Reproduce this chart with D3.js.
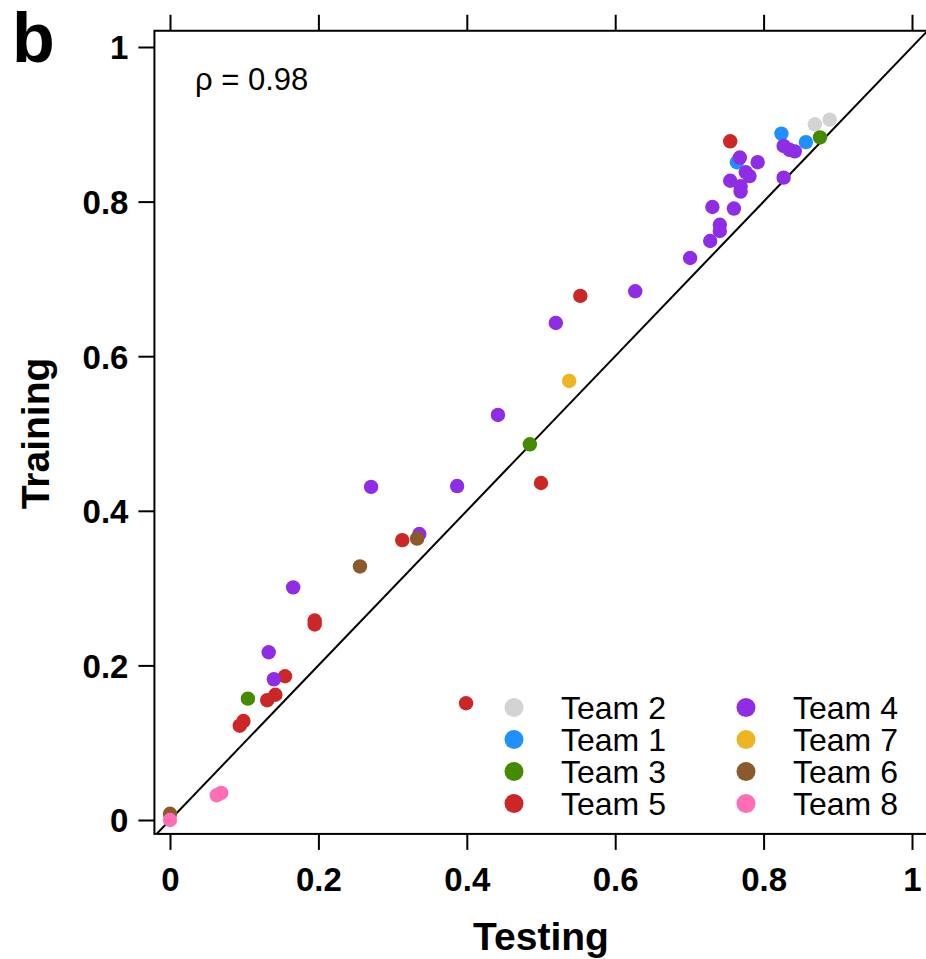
<!DOCTYPE html>
<html>
<head>
<meta charset="utf-8">
<script src="https://cdn.jsdelivr.net/npm/d3@7"></script>
<style>
  body { margin: 0; background: #fff; }
  svg { display: block; font-family: "Liberation Sans", Arial, sans-serif; }
</style>
</head>
<body>
<svg id="chart" width="926" height="959"></svg>
<script>
// teams in draw / legend order
var teams = ["Team 2", "Team 1", "Team 3", "Team 5", "Team 4", "Team 7", "Team 6", "Team 8"];
var teamColors = ["#d3d3d3", "#1e90ff", "#458b00", "#cd2626", "#8e2ce6", "#eeb422", "#8b5a2b", "#ff6eb4"];

// testing / training scores per team
var team2Testing = [0.869, 0.889];
var team2Training = [0.900, 0.906];
var team1Testing = [0.764, 0.824, 0.857];
var team1Training = [0.851, 0.888, 0.877];
var team3Testing = [0.876, 0.485, 0.105];
var team3Training = [0.883, 0.486, 0.157];
var team5Testing = [0.755, 0.553, 0.500, 0.313, 0.195, 0.195, 0.399, 0.155, 0.142, 0.131, 0.099, 0.094];
var team5Training = [0.878, 0.678, 0.436, 0.362, 0.258, 0.253, 0.151, 0.186, 0.162, 0.155, 0.128, 0.122];
var team4Testing = [0.827, 0.835, 0.842, 0.827, 0.768, 0.792, 0.776, 0.781, 0.755, 0.769, 0.769, 0.731, 0.760,
                    0.741, 0.741, 0.728, 0.701, 0.627, 0.520, 0.442, 0.387, 0.271, 0.336, 0.166, 0.133, 0.140];
var team4Training = [0.872, 0.867, 0.865, 0.831, 0.857, 0.851, 0.838, 0.833, 0.827, 0.820, 0.813, 0.793, 0.791,
                     0.770, 0.762, 0.749, 0.727, 0.684, 0.643, 0.524, 0.432, 0.431, 0.370, 0.301, 0.217, 0.182];
var team7Testing = [0.538];
var team7Training = [0.568];
var team6Testing = [0.333, 0.256, 0.0];
var team6Training = [0.364, 0.328, 0.008];
var team8Testing = [0.069, 0.063, 0.0];
var team8Training = [0.035, 0.032, 0.0];

var testingByTeam = [team2Testing, team1Testing, team3Testing, team5Testing, team4Testing, team7Testing, team6Testing, team8Testing];
var trainingByTeam = [team2Training, team1Training, team3Training, team5Training, team4Training, team7Training, team6Training, team8Training];

var tickValues = [0, 0.2, 0.4, 0.6, 0.8, 1];
var xLim = [-0.021, 1.021];
var yLim = [-0.018, 1.021];

var legendCol1 = ["Team 2", "Team 1", "Team 3", "Team 5"];
var legendCol2 = ["Team 4", "Team 7", "Team 6", "Team 8"];

function drawChart() {
    var svg = d3.select("#chart");

    var x = d3.scaleLinear().domain([0, 1]).range([170, 912]);
    var y = d3.scaleLinear().domain([0, 1]).range([820, 47]);
    var color = d3.scaleOrdinal().domain(teams).range(teamColors);

    var boxLeft = x(xLim[0]), boxRight = x(xLim[1]);
    var boxTop = y(yLim[1]), boxBottom = y(yLim[0]);

    // clip for the plot region
    svg.append("clipPath").attr("id", "plotclip")
        .append("rect")
        .attr("x", boxLeft).attr("y", boxTop)
        .attr("width", boxRight - boxLeft).attr("height", boxBottom - boxTop);

    // y = x reference line
    svg.append("line")
        .attr("clip-path", "url(#plotclip)")
        .attr("x1", x(-0.05)).attr("y1", y(-0.05))
        .attr("x2", x(1.05)).attr("y2", y(1.05))
        .style("stroke", "black")
        .style("stroke-width", 2);

    // points
    var points = [];
    teams.forEach(function(team, i) {
        testingByTeam[i].forEach(function(t, j) {
            points.push({team: team, testing: t, training: trainingByTeam[i][j]});
        });
    });

    svg.append("g")
        .attr("clip-path", "url(#plotclip)")
        .selectAll("circle")
        .data(points)
        .enter().append("circle")
        .attr("cx", function(d) { return x(d.testing); })
        .attr("cy", function(d) { return y(d.training); })
        .attr("r", 7.2)
        .style("fill", function(d) { return color(d.team); });

    // frame
    svg.append("rect")
        .attr("x", boxLeft).attr("y", boxTop)
        .attr("width", boxRight - boxLeft).attr("height", boxBottom - boxTop)
        .style("fill", "none")
        .style("stroke", "black")
        .style("stroke-width", 2);

    // axes
    var fmt = d3.format("~g");

    var gBottom = svg.append("g")
        .attr("transform", "translate(0," + boxBottom + ")")
        .call(d3.axisBottom(x).tickValues(tickValues).tickSize(16).tickPadding(18).tickFormat(fmt));

    var gTop = svg.append("g")
        .attr("transform", "translate(0," + boxTop + ")")
        .call(d3.axisTop(x).tickValues(tickValues).tickSize(16).tickFormat(""));

    var gLeft = svg.append("g")
        .attr("transform", "translate(" + boxLeft + ",0)")
        .call(d3.axisLeft(y).tickValues(tickValues).tickSize(16).tickPadding(10).tickFormat(fmt));

    [gBottom, gTop, gLeft].forEach(function(g) {
        g.attr("font-size", null).attr("font-family", null);
        g.select(".domain").remove();
        g.selectAll(".tick line").style("stroke", "black").style("stroke-width", 2);
        g.selectAll(".tick text")
            .style("font-size", "33px")
            .style("font-weight", "bold")
            .style("fill", "black");
    });
    gLeft.selectAll(".tick text").attr("dy", "0.36em");

    // axis titles
    svg.append("text")
        .attr("x", x(0.5)).attr("y", 950)
        .attr("text-anchor", "middle")
        .style("font-size", "39px").style("font-weight", "bold")
        .text("Testing");

    svg.append("text")
        .attr("transform", "translate(49," + y(0.5) + ") rotate(-90)")
        .attr("text-anchor", "middle")
        .style("font-size", "39px").style("font-weight", "bold")
        .text("Training");

    // panel letter
    svg.append("text")
        .attr("x", 12).attr("y", 62)
        .style("font-size", "70px").style("font-weight", "bold")
        .text("b");

    // correlation
    svg.append("text")
        .attr("x", 195).attr("y", 90)
        .style("font-size", "31px")
        .text("\u03c1 = 0.98");

    // legend
    function drawLegend(items, cx, tx) {
        var g = svg.append("g");
        items.forEach(function(team, i) {
            var cy = 707.5 + i * 32;
            g.append("circle")
                .attr("cx", cx).attr("cy", cy).attr("r", 9.5)
                .style("fill", color(team));
            g.append("text")
                .attr("x", tx).attr("y", cy)
                .attr("dy", "0.36em")
                .style("font-size", "32px")
                .text(team);
        });
    }
    drawLegend(legendCol1, 514, 561);
    drawLegend(legendCol2, 746, 793);
}

drawChart();
</script>
</body>
</html>
